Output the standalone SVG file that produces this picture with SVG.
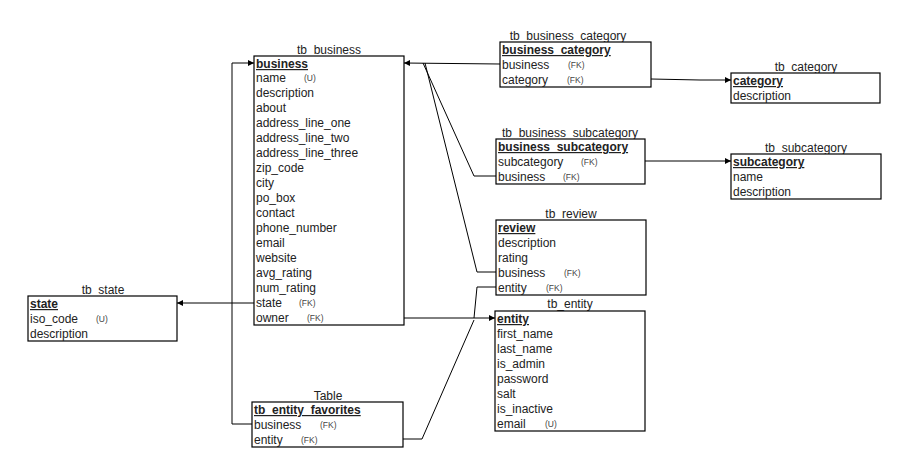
<svg xmlns="http://www.w3.org/2000/svg" width="907" height="473" viewBox="0 0 907 473">
<style>
text{font-family:"Liberation Sans",Arial,sans-serif;font-size:12px;fill:#222}
.t{text-anchor:middle}
.h{font-weight:bold;text-decoration:underline}
.k{font-size:8.5px;fill:#444}
rect{fill:#fff;stroke:#000;stroke-width:1.2}
.c path{fill:none;stroke:#000;stroke-width:1}
</style>
<defs>
<marker id="a" viewBox="0 0 10 10" refX="10" refY="5" markerWidth="6" markerHeight="8" orient="auto" markerUnits="userSpaceOnUse">
<path d="M0,0 L10,5 L0,10 Z" fill="#000"/>
</marker>
</defs>
<rect x="0" y="0" width="907" height="473" style="stroke:none"/>
<g class="c" id="connectors">
<path d="M500,64 L404,63" marker-end="url(#a)"/>
<path d="M496,176 L474,176 L423,63"/>
<path d="M496,272 L477,272 L425,63"/>
<path d="M651,79 L700,80 L731,80" marker-end="url(#a)"/>
<path d="M645,161 L731,161" marker-end="url(#a)"/>
<path d="M254,303 L177,303" marker-end="url(#a)"/>
<path d="M252,424 L232,424 L232,63 L254,63" marker-end="url(#a)"/>
<path d="M404,318 L495,318" marker-end="url(#a)"/>
<path d="M496,287 L477,287 L474,318"/>
<path d="M403,439 L422,439 L474,320"/>
</g>
<g id="tb_business">
<text class="t" x="329" y="54">tb_business</text>
<rect x="254" y="56" width="150" height="269"/>
<text class="h" x="256" y="68">business</text>
<text x="256" y="82">name</text><text class="k" x="304" y="81">(U)</text>
<text x="256" y="97">description</text>
<text x="256" y="112">about</text>
<text x="256" y="127">address_line_one</text>
<text x="256" y="142">address_line_two</text>
<text x="256" y="157">address_line_three</text>
<text x="256" y="172">zip_code</text>
<text x="256" y="187">city</text>
<text x="256" y="202">po_box</text>
<text x="256" y="217">contact</text>
<text x="256" y="232">phone_number</text>
<text x="256" y="247">email</text>
<text x="256" y="262">website</text>
<text x="256" y="277">avg_rating</text>
<text x="256" y="292">num_rating</text>
<text x="256" y="307">state</text><text class="k" x="299" y="306">(FK)</text>
<text x="256" y="322">owner</text><text class="k" x="307" y="321">(FK)</text>
</g>
<g id="tb_business_category">
<text class="t" x="568" y="40">tb_business_category</text>
<rect x="500" y="42" width="151" height="45"/>
<text class="h" x="502" y="54">business_category</text>
<text x="502" y="69">business</text><text class="k" x="568" y="68">(FK)</text>
<text x="502" y="84">category</text><text class="k" x="567" y="83">(FK)</text>
</g>
<g id="tb_category">
<text class="t" x="806" y="71">tb_category</text>
<rect x="731" y="73" width="149" height="30"/>
<text class="h" x="733" y="85">category</text>
<text x="733" y="100">description</text>
</g>
<g id="tb_business_subcategory">
<text class="t" x="570" y="137">tb_business_subcategory</text>
<rect x="496" y="139" width="149" height="45"/>
<text class="h" x="498" y="151">business_subcategory</text>
<text x="498" y="166">subcategory</text><text class="k" x="581" y="165">(FK)</text>
<text x="498" y="181">business</text><text class="k" x="563" y="180">(FK)</text>
</g>
<g id="tb_subcategory">
<text class="t" x="806" y="152">tb_subcategory</text>
<rect x="731" y="154" width="150" height="45"/>
<text class="h" x="733" y="166">subcategory</text>
<text x="733" y="181">name</text>
<text x="733" y="196">description</text>
</g>
<g id="tb_review">
<text class="t" x="571" y="218">tb_review</text>
<rect x="496" y="220" width="150" height="75"/>
<text class="h" x="498" y="232">review</text>
<text x="498" y="247">description</text>
<text x="498" y="262">rating</text>
<text x="498" y="277">business</text><text class="k" x="564" y="276">(FK)</text>
<text x="498" y="292">entity</text><text class="k" x="546" y="291">(FK)</text>
</g>
<g id="tb_entity">
<text class="t" x="570" y="308">tb_entity</text>
<rect x="495" y="311" width="150" height="120"/>
<text class="h" x="497" y="323">entity</text>
<text x="497" y="338">first_name</text>
<text x="497" y="353">last_name</text>
<text x="497" y="368">is_admin</text>
<text x="497" y="383">password</text>
<text x="497" y="398">salt</text>
<text x="497" y="413">is_inactive</text>
<text x="497" y="428">email</text><text class="k" x="545" y="427">(U)</text>
</g>
<g id="tb_state">
<text class="t" x="103" y="294">tb_state</text>
<rect x="28" y="296" width="149" height="45"/>
<text class="h" x="30" y="308">state</text>
<text x="30" y="323">iso_code</text><text class="k" x="96" y="322">(U)</text>
<text x="30" y="338">description</text>
</g>
<g id="tb_entity_favorites">
<text class="t" x="328" y="400">Table</text>
<rect x="252" y="402" width="151" height="45"/>
<text class="h" x="254" y="414">tb_entity_favorites</text>
<text x="254" y="429">business</text><text class="k" x="320" y="428">(FK)</text>
<text x="254" y="444">entity</text><text class="k" x="301" y="443">(FK)</text>
</g>
</svg>
